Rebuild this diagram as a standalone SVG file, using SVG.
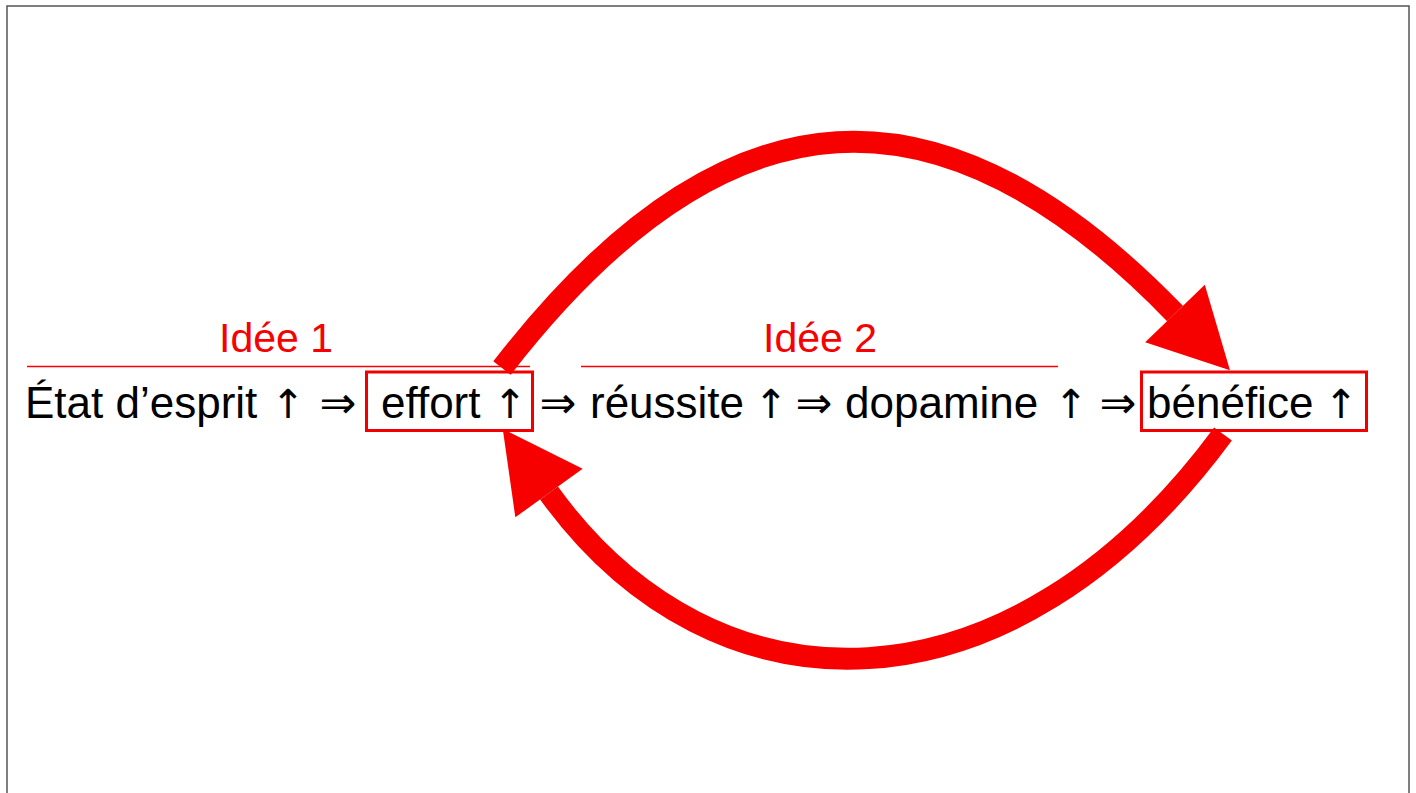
<svg xmlns="http://www.w3.org/2000/svg" width="1416" height="793" viewBox="0 0 1416 793">
  <style>
    .txt { font-family: "Liberation Sans", Arial, "DejaVu Sans", sans-serif; font-size: 44px; fill: #000; }
    .sym { font-family: "Liberation Sans", "DejaVu Sans", sans-serif; font-size: 44px; fill: #000; text-anchor: middle; }
    .up { font-family: "DejaVu Sans", sans-serif; font-size: 40px; fill: #000; text-anchor: middle; }
    .idea { font-family: "Liberation Sans", Arial, sans-serif; font-size: 41px; fill: #f60000; text-anchor: middle; }
    .rule { stroke: #f60000; stroke-width: 1.5; fill: none; }
    .box { stroke: #f00000; stroke-width: 3; fill: none; }
    .loop { stroke: #f60000; stroke-width: 22; fill: none; marker-end: url(#head); }
  </style>
  <defs>
    <marker id="head" markerUnits="userSpaceOnUse" markerWidth="90" markerHeight="90" viewBox="0 -45 90 90" refX="0" refY="0" orient="auto" overflow="visible">
      <path d="M0,-41.5 L79,0 L0,41.5 Z" fill="#f60000"/>
    </marker>
  </defs>

  <!-- page frame -->
  <rect x="7" y="6" width="1402" height="800" fill="#fff" stroke="#555" stroke-width="1.5"/>

  <!-- idea headings -->
  <g id="idee1">
    <text class="idea" x="276" y="352">Idée 1</text>
    <line class="rule" x1="27" y1="366.5" x2="530" y2="366.5"/>
  </g>
  <g id="idee2">
    <text class="idea" x="820" y="352">Idée 2</text>
    <line class="rule" x1="581" y1="366.5" x2="1058" y2="366.5"/>
  </g>

  <!-- chain of causes -->
  <g id="etat">
    <text class="txt" x="25" y="418">État d’esprit</text>
    <text class="up" x="288" y="418">↑</text>
  </g>
  <text class="sym" x="338" y="418">⇒</text>
  <g id="effort">
    <rect class="box" x="366.5" y="372" width="166" height="58.5"/>
    <text class="txt" x="381" y="418">effort</text>
    <text class="up" x="510" y="418">↑</text>
  </g>
  <text class="sym" x="558" y="418">⇒</text>
  <g id="reussite">
    <text class="txt" x="590" y="418">réussite</text>
    <text class="up" x="771" y="418">↑</text>
  </g>
  <text class="sym" x="814" y="418">⇒</text>
  <g id="dopamine">
    <text class="txt" x="845" y="418">dopamine</text>
    <text class="up" x="1071" y="418">↑</text>
  </g>
  <text class="sym" x="1118" y="418">⇒</text>
  <g id="benefice">
    <rect class="box" x="1141.5" y="372" width="225" height="58.5"/>
    <text class="txt" x="1147" y="418">bénéfice</text>
    <text class="up" x="1341" y="418">↑</text>
  </g>

  <!-- feedback loop -->
  <g id="connectors">
    <path class="loop" d="M502,368 C728,76 945,76 1175,313.5"/>
    <path class="loop" d="M1223,434 C1010,723 715,723 549,493"/>
  </g>
</svg>
